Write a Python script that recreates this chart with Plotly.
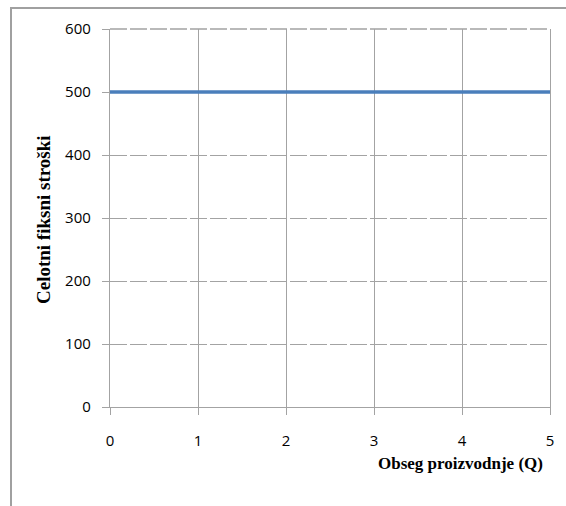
import plotly.graph_objects as go

# Data
q_values = [0, 1, 2, 3, 4, 5]
fixed_costs = [500, 500, 500, 500, 500, 500]
x_ticks = [0, 1, 2, 3, 4, 5]
y_ticks = [0, 100, 200, 300, 400, 500, 600]
x_title = "Obseg proizvodnje (Q)"
y_title = "Celotni fiksni stroški"

W, H = 566, 506
L, R, T, B = 110, 16, 29, 99
pw, ph = W - L - R, H - T - B

def px_x(p):
    return (p - L) / pw

def px_y(p):
    return (H - B - p) / ph

grid = "#a3a3a3"
tick_font = dict(family="Open Sans, Liberation Sans, sans-serif", size=15, color="black")

fig = go.Figure()
fig.add_trace(go.Scatter(x=q_values, y=fixed_costs, mode="lines",
                         line=dict(color="#4a7ebb", width=3.5), showlegend=False,
                         cliponaxis=False))

fig.update_layout(
    width=W, height=H,
    margin=dict(l=L, r=R, t=T, b=B),
    paper_bgcolor="white", plot_bgcolor="white",
    xaxis=dict(range=[0, 5], tickvals=x_ticks, showgrid=True, gridcolor=grid, gridwidth=1.3,
               showline=True, linecolor=grid, linewidth=1.3, ticks="outside", ticklen=7,
               tickcolor=grid, tickwidth=1.3, tickfont=tick_font, ticklabelstandoff=13,
               zeroline=False, fixedrange=True),
    yaxis=dict(range=[0, 600], tickvals=y_ticks, showgrid=True, gridcolor=grid, gridwidth=1.3,
               griddash="17px,3px", showline=True, mirror=True, linecolor=grid, linewidth=1.3,
               ticks="outside", ticklen=7, tickcolor=grid, tickwidth=1.3, tickfont=tick_font,
               ticklabelstandoff=8, zeroline=False, fixedrange=True),
    annotations=[
        dict(text="<b>" + x_title + "</b>", xref="paper", yref="paper",
             x=px_x(545), y=px_y(463), xanchor="right", yanchor="middle", showarrow=False,
             font=dict(family="Liberation Serif, Times New Roman, serif", size=17, color="black")),
        dict(text="<b>" + y_title + "</b>", xref="paper", yref="paper",
             x=px_x(43), y=px_y(220), xanchor="center", yanchor="middle", showarrow=False,
             textangle=-90,
             font=dict(family="Liberation Serif, Times New Roman, serif", size=19, color="black")),
    ],
    shapes=[
        # top dashed gridline at the upper edge of the plot area
        dict(type="line", xref="x domain", yref="y domain", x0=0, x1=1, y0=1, y1=1,
             line=dict(color=grid, width=1.3, dash="17px,3px"), layer="below"),
        # outer frame (top and left edges of the chart area)
        dict(type="line", xref="paper", yref="paper", x0=px_x(10), x1=px_x(570),
             y0=px_y(8), y1=px_y(8), line=dict(color="#a0a0a0", width=2)),
        dict(type="line", xref="paper", yref="paper", x0=px_x(11), x1=px_x(11),
             y0=px_y(7), y1=px_y(510), line=dict(color="#a0a0a0", width=2)),
    ],
)

fig.write_html("out.html")
